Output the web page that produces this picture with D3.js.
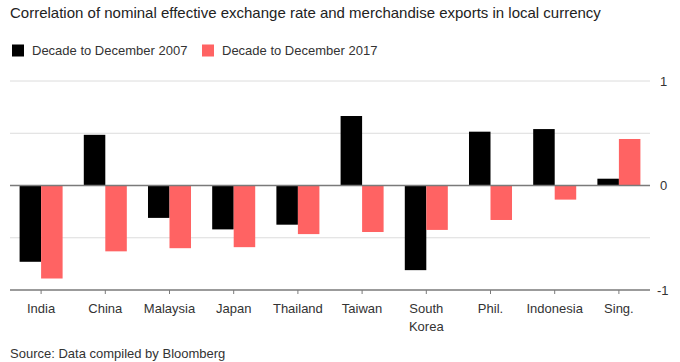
<!DOCTYPE html>
<html>
<head>
    <meta charset="utf-8">
    <title>Correlation chart</title>
    <script src="https://d3js.org/d3.v7.min.js"></script>
    <style>
        body { margin: 0; background: #fff; }
        text { font-family: "Liberation Sans", Arial, sans-serif; }
    </style>
</head>
<body>
<div id="chart"></div>
<script>
    // Data
    var countries = ["India", "China", "Malaysia", "Japan", "Thailand", "Taiwan", "South Korea", "Phil.", "Indonesia", "Sing."];
    var decade2007 = [-0.73, 0.485, -0.31, -0.42, -0.375, 0.665, -0.81, 0.515, 0.54, 0.065];
    var decade2017 = [-0.89, -0.63, -0.60, -0.59, -0.465, -0.445, -0.425, -0.33, -0.135, 0.445];
    var seriesNames = ["Decade to December 2007", "Decade to December 2017"];
    var yTicks = [1, 0, -1];
    var gridTicks = [1, 0.5, -0.5];

    var W = 680, H = 362;
    var colors = ["#000000", "#ff6363"];

    var svg = d3.select("#chart").append("svg")
        .attr("width", W)
        .attr("height", H);

    // Title
    svg.append("text")
        .attr("x", 10)
        .attr("y", 17.5)
        .style("font-size", "15px")
        .style("fill", "#222")
        .text("Correlation of nominal effective exchange rate and merchandise exports in local currency");

    // Legend
    var legendX = [12, 202];
    seriesNames.forEach(function(name, i) {
        svg.append("rect")
            .attr("x", legendX[i])
            .attr("y", 44.5)
            .attr("width", 12)
            .attr("height", 12)
            .style("fill", colors[i]);
        svg.append("text")
            .attr("x", legendX[i] + 20)
            .attr("y", 55)
            .style("font-size", "13px")
            .style("fill", "#333")
            .text(name);
    });

    // Scales
    var x0 = d3.scaleBand()
        .domain(countries)
        .range([9, 651])
        .paddingInner(0.33)
        .paddingOuter(0.165);
    var x1 = d3.scaleBand()
        .domain([0, 1])
        .range([0, x0.bandwidth()]);
    var y = d3.scaleLinear()
        .domain([-1, 1])
        .range([290, 81]);

    // Gridlines
    svg.selectAll(".grid")
        .data(gridTicks)
        .enter().append("line")
        .attr("x1", 10).attr("x2", 650)
        .attr("y1", function(d) { return y(d); })
        .attr("y2", function(d) { return y(d); })
        .style("stroke", "#dcdcdc")
        .style("stroke-width", 1);

    // Bars
    var groups = svg.selectAll(".group")
        .data(countries)
        .enter().append("g")
        .attr("transform", function(d) { return "translate(" + x0(d) + ",0)"; });

    groups.selectAll("rect")
        .data(function(d, i) { return [decade2007[i], decade2017[i]]; })
        .enter().append("rect")
        .attr("x", function(d, j) { return x1(j); })
        .attr("width", x1.bandwidth())
        .attr("y", function(d) { return y(Math.max(0, d)); })
        .attr("height", function(d) { return Math.abs(y(d) - y(0)); })
        .style("fill", function(d, j) { return colors[j]; });

    // Zero line and bottom axis line
    [0, -1].forEach(function(v) {
        svg.append("line")
            .attr("x1", 10).attr("x2", 650)
            .attr("y1", y(v)).attr("y2", y(v))
            .style("stroke", "#7a7a7a")
            .style("stroke-width", 1.5);
    });

    // Category ticks
    svg.selectAll(".tick")
        .data(countries)
        .enter().append("line")
        .attr("x1", function(d) { return x0(d) + x0.bandwidth() / 2; })
        .attr("x2", function(d) { return x0(d) + x0.bandwidth() / 2; })
        .attr("y1", y(-1))
        .attr("y2", y(-1) + 4)
        .style("stroke", "#7a7a7a")
        .style("stroke-width", 1);

    // Category labels (wrap on space for South Korea)
    var labels = svg.selectAll(".label")
        .data(countries)
        .enter().append("text")
        .attr("x", function(d) { return x0(d) + x0.bandwidth() / 2; })
        .attr("y", 312.5)
        .style("text-anchor", "middle")
        .style("font-size", "13px")
        .style("fill", "#333");
    labels.each(function(d) {
        var words = d === "South Korea" ? ["South", "Korea"] : [d];
        var t = d3.select(this);
        words.forEach(function(w, k) {
            t.append("tspan")
                .attr("x", t.attr("x"))
                .attr("dy", k === 0 ? 0 : 18)
                .text(w);
        });
    });

    // Right axis labels
    svg.selectAll(".ylab")
        .data(yTicks)
        .enter().append("text")
        .attr("x", function(d) { return d < 0 ? 657 : 660; })
        .attr("y", function(d) { return y(d); })
        .attr("dy", "0.35em")
        .style("font-size", "13px")
        .style("fill", "#333")
        .text(function(d) { return d; });

    // Source
    svg.append("text")
        .attr("x", 10)
        .attr("y", 358)
        .style("font-size", "13px")
        .style("fill", "#333")
        .text("Source: Data compiled by Bloomberg");
</script>
</body>
</html>
